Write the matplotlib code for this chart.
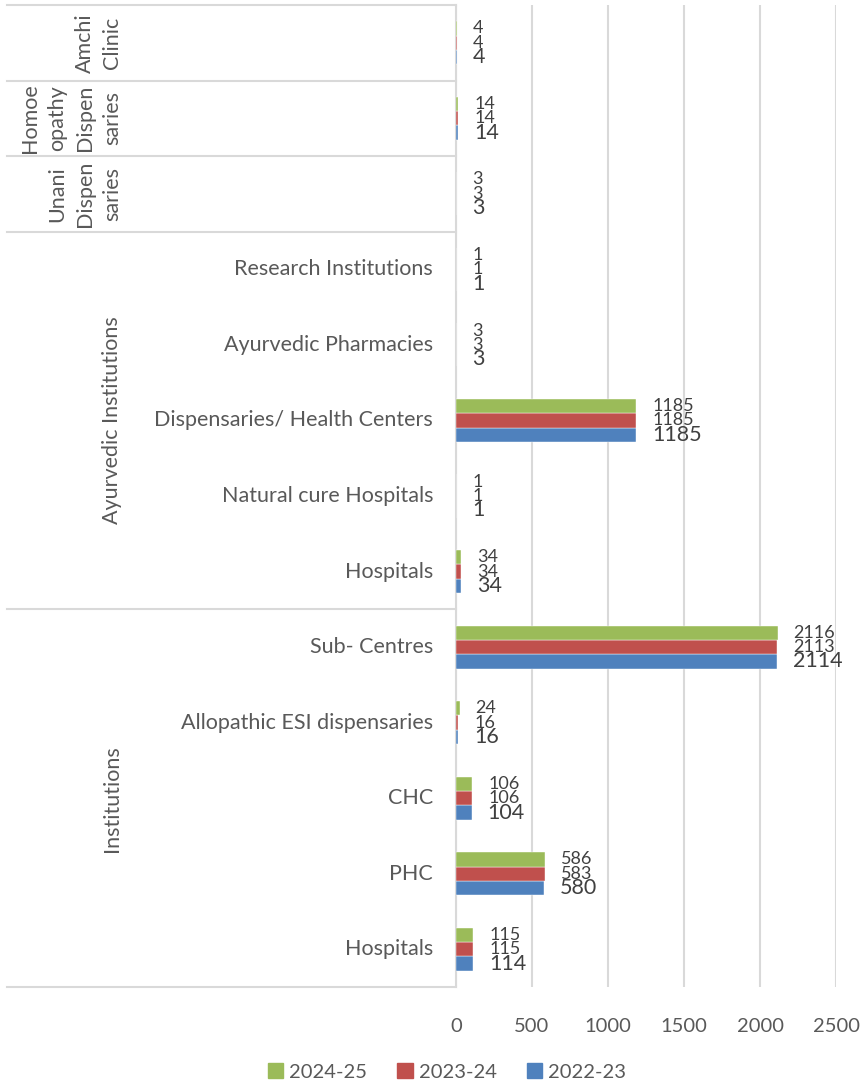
import matplotlib.pyplot as plt
from matplotlib.patches import Patch
import matplotlib.transforms as mtransforms

plt.rcParams['font.family'] = ['Lato', 'DejaVu Sans']

# categories from bottom to top
categories = ['Hospitals', 'PHC', 'CHC', 'Allopathic ESI dispensaries', 'Sub- Centres',
              'Hospitals', 'Natural cure Hospitals', 'Dispensaries/ Health Centers',
              'Ayurvedic Pharmacies', 'Research Institutions', '', '', '']
groups = ['Institutions', 'Ayurvedic Institutions', 'Unani\nDispen\nsaries',
          'Homoe\nopathy\nDispen\nsaries', 'Amchi\nClinic']
group_spans = [(0, 4), (5, 9), (10, 10), (11, 11), (12, 12)]

v2022 = [114, 580, 104, 16, 2114, 34, 1, 1185, 3, 1, 3, 14, 4]
v2023 = [115, 583, 106, 16, 2113, 34, 1, 1185, 3, 1, 3, 14, 4]
v2024 = [115, 586, 106, 24, 2116, 34, 1, 1185, 3, 1, 3, 14, 4]

c_blue = '#4F81BD'
c_red = '#C0504D'
c_green = '#9BBB59'
grey = '#595959'

fig = plt.figure(figsize=(8.66, 10.83), dpi=100)
ax = fig.add_axes([456/866, 1-987/1083, 380/866, 982/1083])

pos = list(range(len(categories)))
h = 0.19
series = [(v2022, c_blue, -h, 15.5), (v2023, c_red, 0, 13), (v2024, c_green, h, 13)]
for vals, col, off, fs in series:
    ys = [p + off for p in pos]
    ax.barh(ys, vals, height=h, color=col, edgecolor='white', linewidth=0.3, zorder=3)
    for y, v in zip(ys, vals):
        ax.annotate(str(v), (v, y), xytext=(11.5, 0), textcoords='offset points',
                    ha='left', va='center', fontsize=fs, color='#404040', zorder=4)

ax.set_xlim(0, 2500)
ax.set_ylim(-0.5, len(categories) - 0.5)
ax.set_xticks([0, 500, 1000, 1500, 2000, 2500])
ax.set_yticks([])
ax.grid(axis='x', color='#D9D9D9', linewidth=1.5, zorder=0)
ax.tick_params(axis='x', length=0, pad=22, labelsize=14.5, labelcolor=grey)
for s in ['top', 'right', 'bottom']:
    ax.spines[s].set_visible(False)
ax.spines['left'].set_color('#D9D9D9')
ax.spines['left'].set_linewidth(1.5)

trans = mtransforms.blended_transform_factory(ax.transAxes, ax.transData)
left_edge = (7 - 456) / 380

for p, lab in zip(pos, categories):
    ax.text((433 - 456) / 380, p, lab, transform=trans, ha='right', va='center',
            fontsize=15.5, color=grey)

bounds = [-0.5, 4.5, 9.5, 10.5, 11.5, 12.5]
for b in bounds:
    ax.plot([left_edge, 0], [b, b], transform=trans, color='#D9D9D9', lw=1.5, clip_on=False)

for g, (a, b) in zip(groups, group_spans):
    ax.text((122 - 456) / 380, (a + b) / 2, g, transform=trans, ha='right', va='center',
            rotation=90, fontsize=15.5, color=grey, multialignment='center', linespacing=1.45)

handles = [Patch(color=c_green, label='2024-25'), Patch(color=c_red, label='2023-24'),
           Patch(color=c_blue, label='2022-23')]
leg = fig.legend(handles=handles, loc='center', bbox_to_anchor=(447/866, 1-1072/1083), ncol=3,
                 frameon=False, fontsize=14.5, handlelength=0.75, handleheight=0.75,
                 handletextpad=0.3, columnspacing=1.5)
for t in leg.get_texts():
    t.set_color(grey)

fig.savefig('out.png', dpi=100)
